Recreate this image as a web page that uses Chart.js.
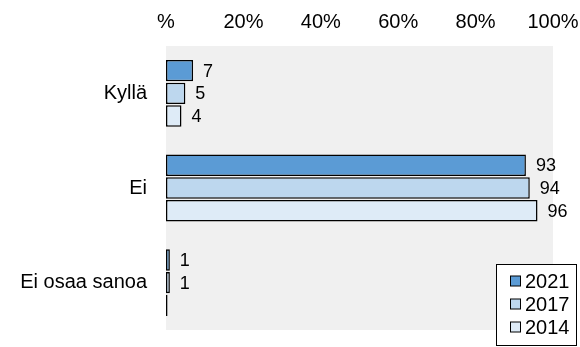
<!DOCTYPE html>
<html>
<head>
<meta charset="utf-8">
<script src="https://cdn.jsdelivr.net/npm/chart.js@4/dist/chart.umd.min.js"></script>
<style>
  html, body { margin: 0; padding: 0; background: #ffffff; }
  #wrap { width: 580px; height: 347px; position: relative; }
</style>
</head>
<body>
<div id="wrap"><canvas id="c"></canvas></div>
<script>
// Answer categories and survey years
const categories = ['Kyllä', 'Ei', 'Ei osaa sanoa'];
const years = ['2021', '2017', '2014'];

// Shares of respondents (%) per year
const values2021 = [7, 93, 1];
const values2017 = [5, 94, 1];
const values2014 = [4, 96, 0.4];

// Axis tick labels for 0..100 in steps of 20
const tickLabels = ['%', '20%', '40%', '60%', '80%', '100%'];

const seriesColors = ['#5b9bd5', '#bdd7ee', '#deebf7'];
const FONT = '"Liberation Sans", Arial, sans-serif';

const datasets = [values2021, values2017, values2014].map((vals, i) => ({
  label: years[i],
  data: vals,
  backgroundColor: seriesColors[i],
  borderColor: '#000000',
  borderWidth: 1.5,
  borderSkipped: false,
  categoryPercentage: 0.72,
  barPercentage: 0.94
}));

// Fixed plot rectangle inside the canvas
const PLOT = { left: 166, right: 553, top: 46, bottom: 330 };

// Pin the chart area so the axes and bars use the same rectangle every time
const fixedArea = {
  id: 'fixedArea',
  afterLayout(chart) {
    const a = chart.chartArea;
    a.left = PLOT.left; a.right = PLOT.right;
    a.top = PLOT.top; a.bottom = PLOT.bottom;
    a.width = a.right - a.left; a.height = a.bottom - a.top;
    const x = chart.scales.x, y = chart.scales.y;
    x.left = a.left; x.right = a.right; x.width = a.width;
    x.top = 0; x.bottom = a.top; x.height = a.top;
    y.left = 0; y.right = a.left; y.width = a.left;
    y.top = a.top; y.bottom = a.bottom; y.height = a.height;
    x.configure(); y.configure();
  }
};

// Light grey plot area behind the bars
const plotBackground = {
  id: 'plotBackground',
  beforeDraw(chart) {
    const { ctx, chartArea: a } = chart;
    ctx.save();
    ctx.fillStyle = '#f0f0f0';
    ctx.fillRect(a.left, a.top, a.right - a.left, a.bottom - a.top);
    ctx.restore();
  }
};

// Value labels to the right of each bar
const valueLabels = {
  id: 'valueLabels',
  afterDatasetsDraw(chart) {
    const { ctx } = chart;
    ctx.save();
    ctx.font = '18px ' + FONT;
    ctx.fillStyle = '#000000';
    ctx.textAlign = 'left';
    ctx.textBaseline = 'middle';
    chart.data.datasets.forEach((ds, di) => {
      chart.getDatasetMeta(di).data.forEach((bar, i) => {
        const v = ds.data[i];
        if (v < 0.5) return;
        ctx.fillText(String(Math.round(v)), bar.x + 10, bar.y + 1);
      });
    });
    ctx.restore();
  }
};

// Boxed legend in the lower right corner
const boxLegend = {
  id: 'boxLegend',
  afterDraw(chart) {
    const { ctx } = chart;
    const w = 81, h = 82;
    const x = chart.width - 3 - w;
    const y = chart.height - 1 - h;
    ctx.save();
    ctx.fillStyle = '#ffffff';
    ctx.fillRect(x, y, w, h);
    ctx.strokeStyle = '#000000';
    ctx.lineWidth = 1;
    ctx.strokeRect(x + 0.5, y + 0.5, w - 1, h - 1);
    ctx.font = '20px ' + FONT;
    ctx.textBaseline = 'middle';
    ctx.textAlign = 'left';
    chart.data.datasets.forEach((ds, i) => {
      const cy = y + 17 + i * 23;
      ctx.fillStyle = ds.backgroundColor;
      ctx.fillRect(x + 14.5, cy - 5, 10, 10);
      ctx.strokeStyle = '#000000';
      ctx.lineWidth = 1;
      ctx.strokeRect(x + 14.5, cy - 5, 10, 10);
      ctx.fillStyle = '#000000';
      ctx.fillText(ds.label, x + 29, cy + 1);
    });
    ctx.restore();
  }
};

new Chart(document.getElementById('c'), {
  type: 'bar',
  data: { labels: categories, datasets },
  options: {
    indexAxis: 'y',
    responsive: true,
    maintainAspectRatio: false,
    animation: false,
    plugins: {
      legend: { display: false },
      tooltip: { enabled: false }
    },
    scales: {
      x: {
        position: 'top',
        min: 0,
        max: 100,
        grid: { display: false, drawTicks: false },
        border: { display: false },
        ticks: {
          stepSize: 20,
          padding: 12,
          color: '#000000',
          font: { family: FONT, size: 20 },
          callback: (v) => tickLabels[Math.round(v / 20)]
        }
      },
      y: {
        grid: { display: false, drawTicks: false },
        border: { display: false },
        ticks: {
          padding: 19,
          color: '#000000',
          font: { family: FONT, size: 20 }
        }
      }
    }
  },
  plugins: [fixedArea, plotBackground, valueLabels, boxLegend]
});
</script>
</body>
</html>
